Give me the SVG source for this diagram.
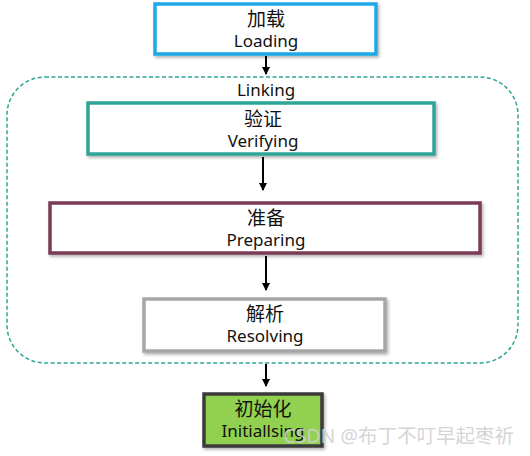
<svg xmlns="http://www.w3.org/2000/svg" width="530" height="456" viewBox="0 0 530 456">
<style>
.t{font-family:"Noto Sans","Noto Sans CJK SC",sans-serif;font-size:17px;fill:#111;text-anchor:middle}
.c{font-size:19px}
.box{fill:#fff;stroke-width:3.5}
.ln{stroke:#000;stroke-width:2;fill:none}
</style>
<defs>
<filter id="sh" x="-10%" y="-20%" width="120%" height="150%">
<feDropShadow dx="1.5" dy="2" stdDeviation="1.5" flood-color="#000" flood-opacity="0.3"/>
</filter>
<marker id="ad" markerWidth="8" markerHeight="8" refX="7" refY="4" orient="auto" markerUnits="userSpaceOnUse" viewBox="0 0 8 8">
<path d="M0,0 L8,4 L0,8 Z" fill="#000"/>
</marker>
</defs>
<rect width="530" height="456" fill="#fff"/>
<g id="linking">
<rect x="7" y="77" width="511" height="286" rx="38" ry="38" fill="none" stroke="#2ea597" stroke-width="1.5" stroke-dasharray="4 2.5"/>
<text class="t" x="266" y="96">Linking</text>
</g>
<g id="connectors">
<line class="ln" x1="266" y1="56" x2="266" y2="74" marker-end="url(#ad)"/>
<line class="ln" x1="263" y1="157" x2="263" y2="190" marker-end="url(#ad)"/>
<line class="ln" x1="266" y1="256" x2="266" y2="290" marker-end="url(#ad)"/>
<line class="ln" x1="266" y1="364" x2="266" y2="386" marker-end="url(#ad)"/>
</g>
<g id="loading">
<rect class="box" x="155" y="4" width="221" height="50" stroke="#1fa9e6" filter="url(#sh)"/>
<text class="t c" x="266" y="26">加载</text>
<text class="t" x="266" y="47">Loading</text>
</g>
<g id="verifying">
<rect class="box" x="88" y="103" width="346" height="51" stroke="#2ea597" filter="url(#sh)"/>
<text class="t c" x="263" y="126">验证</text>
<text class="t" x="263" y="147">Verifying</text>
</g>
<g id="preparing">
<rect class="box" x="50" y="203" width="430" height="50" stroke="#7b3b55" filter="url(#sh)"/>
<text class="t c" x="266" y="225">准备</text>
<text class="t" x="266" y="246">Preparing</text>
</g>
<g id="resolving">
<rect class="box" x="144" y="299" width="241" height="52" stroke="#a6a6a6" filter="url(#sh)"/>
<text class="t c" x="265" y="321">解析</text>
<text class="t" x="265" y="342">Resolving</text>
</g>
<g id="initialising">
<rect x="204" y="394" width="118" height="52" fill="#92d050" stroke="#3a3a3a" stroke-width="3.5" filter="url(#sh)"/>
<text class="t c" x="263" y="416">初始化</text>
<text class="t" x="263" y="437">Initiallsing</text>
</g>
<text x="514" y="443" text-anchor="end" style="font-family:'Noto Sans','Noto Sans CJK SC',sans-serif;font-size:19.5px;fill:#cfcfcf;fill-opacity:0.9">CSDN @布丁不叮早起枣祈</text>
</svg>
